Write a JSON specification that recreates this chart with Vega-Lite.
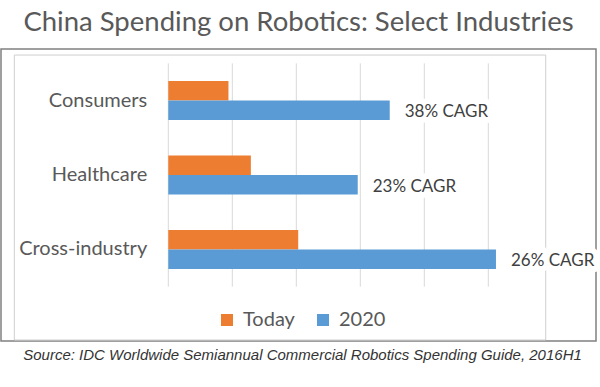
{
  "$schema": "https://vega.github.io/schema/vega-lite/v6.json",
  "width": 595,
  "height": 292,
  "autosize": "none",
  "padding": {"left": 1, "top": 49, "right": 4, "bottom": 46},
  "background": "white",
  "title": {
    "text": "China Spending on Robotics: Select Industries",
    "font": "Lato",
    "fontSize": 27.5,
    "fontWeight": "normal",
    "color": "#595959",
    "anchor": "middle",
    "offset": 13
  },
  "config": {"view": {"stroke": "#808080", "strokeWidth": 1.5}},
  "datasets": {
    "spend": [
      {"industry": "Consumers", "period": "Today", "value": 0.94},
      {"industry": "Consumers", "period": "2020", "value": 3.46, "cagr": "38% CAGR"},
      {"industry": "Healthcare", "period": "Today", "value": 1.29},
      {"industry": "Healthcare", "period": "2020", "value": 2.96, "cagr": "23% CAGR"},
      {"industry": "Cross-industry", "period": "Today", "value": 2.03},
      {"industry": "Cross-industry", "period": "2020", "value": 5.12, "cagr": "26% CAGR"}
    ],
    "grid": [{"tick": 0}, {"tick": 1}, {"tick": 2}, {"tick": 3}, {"tick": 4}, {"tick": 5}],
    "frame": [{"part": "chart area"}]
  },
  "layer": [
    {
      "data": {"name": "frame"},
      "mark": {"type": "rect", "filled": false, "stroke": "#cfcfcf", "strokeWidth": 1},
      "encoding": {
        "x": {"datum": -2.406, "type": "quantitative"},
        "x2": {"datum": 5.897},
        "y": {
          "datum": -0.037,
          "type": "quantitative",
          "scale": {"domain": [0, 1], "range": [14.3, 237.7], "nice": false, "zero": false},
          "axis": null
        },
        "y2": {"datum": 1.2386}
      }
    },
    {
      "data": {"name": "grid"},
      "mark": {"type": "rule", "color": "#d9d9d9", "strokeWidth": 1},
      "encoding": {
        "x": {
          "field": "tick",
          "type": "quantitative",
          "scale": {"domain": [0, 5], "range": [167.3, 487.3], "nice": false, "zero": true},
          "axis": {
            "title": "Source: IDC Worldwide Semiannual Commercial Robotics Spending Guide, 2016H1",
            "titleFont": "Liberation Sans",
            "titleFontStyle": "italic",
            "titleFontWeight": "normal",
            "titleFontSize": 15,
            "titleColor": "#333333",
            "titlePadding": 6,
            "titleX": 301,
            "titleAlign": "center",
            "labels": false,
            "ticks": false,
            "domain": false,
            "grid": false
          }
        },
        "y": {
          "datum": 0,
          "type": "quantitative",
          "scale": {"domain": [0, 1], "range": [14.3, 237.7], "nice": false, "zero": false},
          "axis": null
        },
        "y2": {"datum": 1}
      }
    },
    {
      "data": {"name": "spend"},
      "layer": [
        {
          "mark": {"type": "bar"},
          "encoding": {
            "x": {"field": "value", "type": "quantitative"},
            "y": {
              "field": "industry",
              "type": "nominal",
              "scale": {
                "domain": ["Consumers", "Healthcare", "Cross-industry"],
                "range": [14.3, 237.7],
                "paddingInner": 0.476,
                "paddingOuter": 0.238
              },
              "axis": {
                "orient": "left",
                "offset": -145.7,
                "domain": false,
                "ticks": false,
                "grid": false,
                "labelPadding": 0,
                "labelFont": "Lato",
                "labelFontSize": 20,
                "labelColor": "#595959",
                "title": null
              }
            },
            "yOffset": {
              "field": "period",
              "type": "nominal",
              "scale": {"domain": ["Today", "2020"], "paddingInner": 0, "paddingOuter": 0}
            },
            "color": {
              "field": "period",
              "type": "nominal",
              "scale": {"domain": ["Today", "2020"], "range": ["#ED7D31", "#5B9BD5"]},
              "legend": {
                "orient": "none",
                "legendX": 216,
                "legendY": 261,
                "direction": "horizontal",
                "title": null,
                "symbolType": "square",
                "symbolSize": 144,
                "symbolStrokeWidth": 0,
                "labelFont": "Lato",
                "labelFontSize": 20,
                "labelColor": "#595959",
                "labelOffset": 6,
                "columnPadding": 18,
                "padding": 0
              }
            }
          }
        },
        {
          "transform": [{"filter": "datum.cagr != null"}],
          "mark": {"type": "text", "align": "left", "baseline": "middle", "dx": 15, "dy": 2, "font": "Lato", "fontSize": 17, "fill": "white", "stroke": "white", "strokeWidth": 12, "strokeJoin": "round"},
          "encoding": {
            "x": {"field": "value", "type": "quantitative"},
            "y": {"field": "industry", "type": "nominal"},
            "yOffset": {"field": "period", "type": "nominal"},
            "text": {"field": "cagr"}
          }
        },
        {
          "transform": [{"filter": "datum.cagr != null"}],
          "mark": {"type": "text", "align": "left", "baseline": "middle", "dx": 15, "dy": 2, "font": "Lato", "fontSize": 17, "color": "#404040"},
          "encoding": {
            "x": {"field": "value", "type": "quantitative"},
            "y": {"field": "industry", "type": "nominal"},
            "yOffset": {"field": "period", "type": "nominal"},
            "text": {"field": "cagr"}
          }
        }
      ]
    }
  ],
  "resolve": {"scale": {"y": "independent"}}
}
